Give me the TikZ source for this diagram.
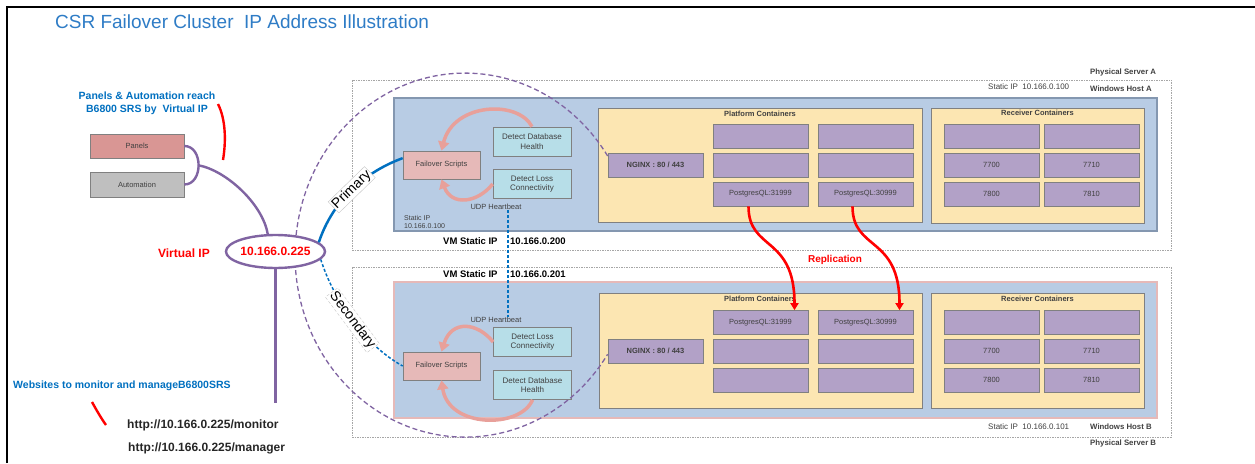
\documentclass[tikz,border=0pt]{standalone}
\usepackage{fontspec}
\setmainfont{Liberation Sans}
\usetikzlibrary{shapes.geometric,arrows.meta}
\newcommand\fsz[2]{\fontsize{#1}{#2}\selectfont}
\definecolor{titleblue}{HTML}{2E7CC6}
\definecolor{nblue}{HTML}{0070C0}
\definecolor{vmblue}{HTML}{B8CCE4}
\definecolor{vmedge}{HTML}{8497B0}
\definecolor{vmpink}{HTML}{E6B9B8}
\definecolor{cyel}{HTML}{FCE6B2}
\definecolor{purp}{HTML}{B2A1C7}
\definecolor{boxgrey}{HTML}{808080}
\definecolor{txtgrey}{HTML}{404040}
\definecolor{failpink}{HTML}{E6B9B8}
\definecolor{detcyan}{HTML}{B7DEE8}
\definecolor{panelred}{HTML}{D99694}
\definecolor{autogrey}{HTML}{BFBFBF}
\definecolor{arcpink}{HTML}{E8A09A}
\definecolor{vpurple}{HTML}{8064A2}
\definecolor{srvgrey}{HTML}{A6A6A6}
\begin{document}
\begin{tikzpicture}[x=1pt,y=-1pt,
  lbl/.style={inner sep=0pt,text=txtgrey,font=\fsz{7.5}{9}},
  lblb/.style={inner sep=0pt,text=txtgrey,font=\bfseries\fsz{7.8}{9}},
  cbox/.style={draw=boxgrey,line width=0.7pt,inner sep=0pt,text=txtgrey,font=\fsz{7.5}{9},align=center},
  pur/.style={cbox,fill=purp,minimum width=95pt,minimum height=24pt},
  ngx/.style={pur,font=\bfseries\fsz{7.5}{9}},
  fail/.style={cbox,fill=failpink,minimum width=77pt,minimum height=28pt},
  det/.style={cbox,fill=detcyan,minimum width=78pt,minimum height=29pt,font=\fsz{8}{9.5}},
  srv/.style={draw=srvgrey,line width=0.7pt,dash pattern=on 1.5pt off 1pt},
  cont/.style={draw=boxgrey,line width=0.7pt,fill=cyel},
  pl/.style={draw=vpurple,line width=2.4pt},
  arcarrow/.style={draw=arcpink,line width=3.5pt,-{Triangle[length=9pt,width=11pt]}},
  repl/.style={draw=red,line width=2.6pt,-{Triangle[length=7pt,width=8pt]}},
  redmark/.style={draw=red,line width=2.4pt},
  vmtxt/.style={font=\bfseries\fsz{9.5}{11},text=black,inner sep=0pt,anchor=west},
  roletag/.style={sloped,pos=0.5,fill=white,draw=gray!45,line width=0.4pt,inner sep=1.2pt,text=black,font=\fsz{14}{14}}
]
\useasboundingbox (0,0) rectangle (1255,463);
\fill[white] (0,0) rectangle (1255,463);
\draw[line width=2.2pt] (7,463) -- (7,7) -- (1255,7);

\node[anchor=west,inner sep=0pt,text=titleblue,font=\fsz{19}{22}] (title) at (55,22) {CSR Failover Cluster\ \ IP Address Illustration};

% physical servers
\draw[srv] (352,80) rectangle (1171,250);
\draw[srv] (352,267) rectangle (1171,437);
\node[lblb,anchor=west] (psa) at (1090,72) {Physical Server A};
\node[lblb,anchor=west] (wha) at (1090,89) {Windows Host A};
\node[lbl,anchor=west,font=\fsz{8}{9}] (sipa) at (988,87) {Static IP\ \ 10.166.0.100};
\node[lblb,anchor=west] (psb) at (1090,443) {Physical Server B};
\node[lblb,anchor=west] (whb) at (1090,427) {Windows Host B};
\node[lbl,anchor=west,font=\fsz{8}{9}] (sipb) at (988,427) {Static IP\ \ 10.166.0.101};

% VMs
\draw[fill=vmblue,draw=vmedge,line width=1.2pt] (394,98) rectangle (1157,231);
\draw[fill=vmblue,draw=vmpink,line width=1.2pt] (394,282) rectangle (1157,418);
\node[vmtxt] (vma) at (443,241) {VM Static IP};
\node[vmtxt] (vmaip) at (510,241) {10.166.0.200};
\node[vmtxt] (vmb) at (443,274) {VM Static IP};
\node[vmtxt] (vmbip) at (510,274) {10.166.0.201};
\node[lbl,anchor=west,align=left,font=\fsz{7}{8.5}] (vmasip) at (404,222) {Static IP\\10.166.0.100};

% containers
\draw[cont] (598,108) rectangle (922,222);
\draw[cont] (931,108) rectangle (1144,223);
\draw[cont] (599,293) rectangle (922,408);
\draw[cont] (931,293) rectangle (1144,408);
\node[lblb,font=\bfseries\fsz{7.5}{9}] (pcA) at (760,114) {Platform Containers};
\node[lblb,font=\bfseries\fsz{7.5}{9}] (rcA) at (1037.5,113) {Receiver Containers};
\node[lblb,font=\bfseries\fsz{7.5}{9}] (pcB) at (760,299) {Platform Containers};
\node[lblb,font=\bfseries\fsz{7.5}{9}] (rcB) at (1037.5,299) {Receiver Containers};

% platform A
\node[ngx] (nginxA) at (655.5,165) {NGINX : 80 / 443};
\node[pur] (pa11) at (760.5,136) {};
\node[pur] (pa12) at (865.5,136) {};
\node[pur] (pa21) at (760.5,165) {};
\node[pur] (pa22) at (865.5,165) {};
\node[pur] (pgA1) at (760.5,194) {PostgresQL:31999};
\node[pur] (pgA2) at (865.5,194) {PostgresQL:30999};
% receiver A
\node[pur] (ra11) at (991.5,136) {};
\node[pur] (ra12) at (1091.5,136) {};
\node[pur] (ra21) at (991.5,165) {7700};
\node[pur] (ra22) at (1091.5,165) {7710};
\node[pur] (ra31) at (991.5,194) {7800};
\node[pur] (ra32) at (1091.5,194) {7810};
% platform B
\node[ngx] (nginxB) at (655.5,351) {NGINX : 80 / 443};
\node[pur] (pgB1) at (760.5,322.5) {PostgresQL:31999};
\node[pur] (pgB2) at (865.5,322.5) {PostgresQL:30999};
\node[pur] (pb21) at (760.5,351) {};
\node[pur] (pb22) at (865.5,351) {};
\node[pur] (pb31) at (760.5,380) {};
\node[pur] (pb32) at (865.5,380) {};
% receiver B
\node[pur] (rb11) at (991.5,322.5) {};
\node[pur] (rb12) at (1091.5,322.5) {};
\node[pur] (rb21) at (991.5,351) {7700};
\node[pur] (rb22) at (1091.5,351) {7710};
\node[pur] (rb31) at (991.5,380) {7800};
\node[pur] (rb32) at (1091.5,380) {7810};

% failover components A
\node[fail] (failA) at (441.5,165) {Failover Scripts};
\node[det] (detDBA) at (532,141.5) {Detect Database\\Health};
\node[det] (detLA) at (532,184) {Detect Loss\\Connectivity};
\node[lbl] (udpA) at (496,207) {UDP Heartbeat};
% failover components B
\node[fail] (failB) at (441.5,366) {Failover Scripts};
\node[det] (detLB) at (532.5,342) {Detect Loss\\Connectivity};
\node[det] (detDBB) at (532.5,385) {Detect Database\\Health};
\node[lbl] (udpB) at (496,320) {UDP Heartbeat};

\draw[arcarrow] (detDBA.north) .. controls +(-14,-27) and +(12,-48) .. (failA.north);
\draw[arcarrow] (detLA.west) .. controls +(-15,19) and +(10,27) .. (failA.south);
\draw[arcarrow] (detLB.west) .. controls +(-16,-20) and +(10,-32) .. (failB.north);
\draw[arcarrow] (detDBB.south) .. controls +(-12,29) and +(7,48) .. (failB.south);

\draw[nblue,line width=1.6pt,dash pattern=on 3pt off 2pt] ([xshift=12pt]udpA.south) -- ([xshift=12pt]udpB.north);

% replication
\draw[repl] ([xshift=-12pt]pgA1.south) .. controls +(0,45) and +(0,-75) .. ([xshift=34pt]pgB1.north);
\draw[repl] ([xshift=-13pt]pgA2.south) .. controls +(0,45) and +(0,-75) .. ([xshift=34pt]pgB2.north);
\node[inner sep=0pt,text=red,font=\bfseries\fsz{10}{12}] (repltxt) at (835,260) {Replication};

% big dashed ellipse
\draw[vpurple,line width=1.3pt,dash pattern=on 5pt off 3pt] ([yshift=9pt]nginxA.west) arc[start angle=-33,end angle=-327,x radius=170,y radius=182];

% left side
\node[inner sep=0pt,align=center,text=nblue,font=\bfseries\fsz{10.5}{13}] (reach) at (147,103.5) {Panels \& Automation reach\\B6800 SRS by\ \ Virtual IP};
\draw[redmark] (218,104) .. controls (226,120) and (226,142) .. (223,160);
\node[cbox,fill=panelred,minimum width=94pt,minimum height=24pt] (panels) at (137,146) {Panels};
\node[cbox,fill=autogrey,minimum width=94pt,minimum height=25pt] (auto) at (137,184.5) {Automation};

\node[draw=vpurple,line width=2.4pt,fill=white,ellipse,minimum width=89pt,minimum height=33pt,inner sep=0pt,text=red,font=\bfseries\fsz{12}{14}] (vip) at (275.5,251.5) {10.166.0.225};
\node[anchor=east,inner sep=0pt,text=red,font=\bfseries\fsz{12}{14}] (viplbl) at (210,253) {Virtual IP};

\draw[pl] (panels.east) .. controls +(19,0) and +(19,0) .. (auto.east);
\coordinate (jn) at (198,165.2);
\draw[pl] (jn) .. controls +(28,5) and +(-5,-30) .. (vip.114);
\coordinate (vbot) at (275.5,403);
\draw[pl] (vip.south) -- (vbot);

\draw[nblue,line width=2.5pt] (vip.12) .. controls +(14,-42) and +(-38,14) .. (failA.170) node[roletag] (prim) {Primary};
\draw[nblue,line width=1.5pt,dash pattern=on 3pt off 2pt] (vip.-10) .. controls +(13,41) and +(-38,-21) .. (failB.west) node[roletag] (sec) {Secondary};

\node[anchor=west,inner sep=0pt,text=nblue,font=\bfseries\fsz{10.5}{12}] (web) at (13,386) {Websites to monitor and manageB6800SRS};
\draw[redmark] (92,402) .. controls (97,411) and (101,418) .. (106,425);
\node[anchor=west,inner sep=0pt,text=black!85,font=\bfseries\fsz{12}{14}] (urlmon) at (127,425) {http://10.166.0.225/monitor};
\node[anchor=west,inner sep=0pt,text=black!85,font=\bfseries\fsz{12}{14}] (urlman) at (128,448) {http://10.166.0.225/manager};
\end{tikzpicture}
\end{document}
